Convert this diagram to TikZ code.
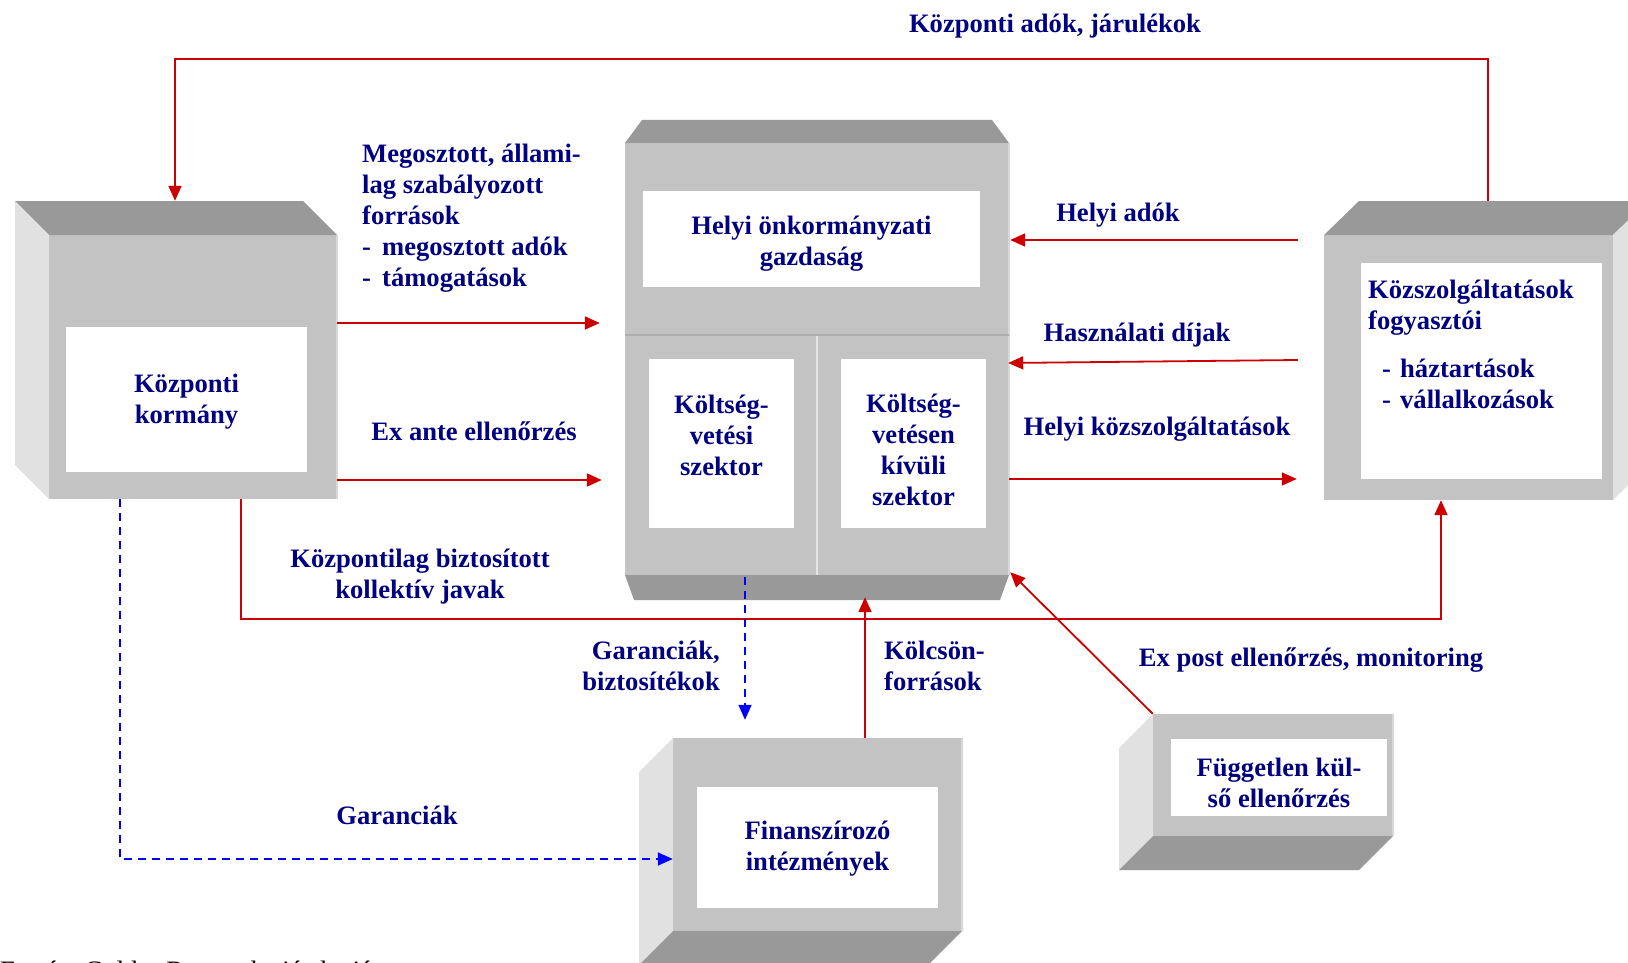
\documentclass[tikz,border=0pt]{standalone}
\usepackage{fontspec}
\setmainfont{Liberation Serif}
\usetikzlibrary{arrows.meta,calc}
\definecolor{navy}{HTML}{000080}
\definecolor{arrred}{HTML}{CC0000}
\definecolor{arrblue}{HTML}{0000FF}
\definecolor{topgray}{HTML}{999999}
\definecolor{frontgray}{HTML}{C3C3C3}
\definecolor{sidegray}{HTML}{E1E1E1}
\definecolor{edgegray}{HTML}{D8D8D8}
\definecolor{divgray}{HTML}{ADADAD}
\newcommand{\lblfont}{\fontsize{26.6}{31}\selectfont\bfseries}
\begin{document}
\begin{tikzpicture}[x=1pt,y=-1pt,
  lbl/.style={font=\lblfont, text=navy, inner sep=0pt},
  whitebox/.style={fill=white, draw=none, inner sep=0pt},
  front/.style={fill=frontgray, draw=none, inner sep=0pt},
  redline/.style={draw=arrred, line width=1.8pt},
  redarr/.style={redline, -{Triangle[length=15pt,width=13pt]}},
  bluearr/.style={draw=arrblue, line width=1.6pt, dash pattern=on 8pt off 6pt, -{Triangle[length=15pt,width=13pt]}}
]
\useasboundingbox (0,0) rectangle (1628,963);

% ---------- Kozponti kormany ----------
\node[front, minimum width=288pt, minimum height=264pt] (kk) at (193,367) {};
\fill[topgray] (15,201) -- (303,201) -- (337,235) -- (49,235) -- cycle;
\fill[sidegray] (15,201) -- (49,235) -- (49,499) -- (15,465) -- cycle;
\draw[edgegray, line width=2pt] (kk.north east) -- (kk.south east);
\node[whitebox, minimum width=241pt, minimum height=145pt] (kkw) at (186.5,399.5) {};
\node[lbl, align=center] (kkt) at (186.5,402) {Központi\\kormány};

% ---------- Helyi onkormanyzati gazdasag ----------
\node[front, minimum width=384pt, minimum height=432pt] (hk) at (817,359) {};
\fill[topgray] (642,120) -- (992,120) -- (1009,143) -- (625,143) -- cycle;
\fill[topgray] (625,575) -- (1009,575) -- (1000,600) -- (634,600) -- cycle;
\draw[edgegray, line width=2pt] (hk.north east) -- (hk.south east);
\draw[divgray, line width=1.5pt] (625,335) -- (1009,335);
\draw[edgegray!70!white, line width=2.5pt] (817,336) -- (817,575);
\node[whitebox, minimum width=337pt, minimum height=96pt] (hkw) at (811.5,239) {};
\node[lbl, align=center] (hkt) at (811.5,244) {Helyi önkormányzati\\gazdaság};
\node[whitebox, minimum width=145pt, minimum height=169pt] (ksw) at (721.5,443.5) {};
\node[lbl, align=center] (kst) at (721.5,435) {Költség-\\vetési\\szektor};
\node[whitebox, minimum width=145pt, minimum height=169pt] (knw) at (913.5,443.5) {};
\node[lbl, align=center] (knt) at (913.5,450) {Költség-\\vetésen\\kívüli\\szektor};

% ---------- Kozszolgaltatasok fogyasztoi ----------
\node[front, minimum width=289pt, minimum height=265pt] (kf) at (1468.5,367.5) {};
\fill[topgray] (1324,235) -- (1359,201) -- (1648,201) -- (1613,235) -- cycle;
\fill[sidegray] (1613,235) -- (1648,201) -- (1648,466) -- (1613,500) -- cycle;
\node[whitebox, minimum width=241pt, minimum height=216pt] (kfw) at (1481.5,371) {};
\node[lbl, anchor=west, align=left] (kft) at (1368,308) {Közszolgáltatások\\fogyasztói};
\node[lbl, anchor=west, align=left] (kfl) at (1382,384) {\makebox[18pt][l]{-}háztartások\\\makebox[18pt][l]{-}vállalkozások};

% ---------- Finanszirozo intezmenyek ----------
\node[front, minimum width=289pt, minimum height=193pt] (fi) at (817.5,834.5) {};
\fill[sidegray] (639,772) -- (673,738) -- (673,931) -- (639,965) -- cycle;
\fill[topgray] (673,931) -- (962,931) -- (928,965) -- (639,965) -- cycle;
\draw[edgegray, line width=2pt] (fi.north east) -- (962,931);
\node[whitebox, minimum width=241pt, minimum height=121pt] (fiw) at (817.5,847.5) {};
\node[lbl, align=center] (fit) at (817.5,848.5) {Finanszírozó\\intézmények};

% ---------- Fuggetlen kulso ellenorzes ----------
\node[front, minimum width=240pt, minimum height=122pt] (fk) at (1273,775) {};
\fill[sidegray] (1119,748) -- (1153,714) -- (1153,836) -- (1119,870) -- cycle;
\fill[topgray] (1153,836) -- (1393,836) -- (1359,870) -- (1119,870) -- cycle;
\draw[edgegray, line width=2pt] (fk.north east) -- (1393,836);
\node[whitebox, minimum width=216pt, minimum height=77pt] (fkw) at (1279,777.5) {};
\node[lbl, align=center] (fkt) at (1279,782.5) {Független kül-\\ső ellenőrzés};

% ---------- connectors ----------
\draw[redarr] ($(kf.north -| 1488,0)+(0,-34)$) -- (1488,59) -| ($(kk.north -| 175,0)+(0,-34)$);
\draw[redarr] (kk.east |- 0,323) -- ($(hk.west |- 0,323)+(-25,0)$);
\draw[redarr] (kk.east |- 0,480) -- ($(hk.west |- 0,480)+(-23,0)$);
\draw[redarr] ($(kf.west |- 0,240)+(-26,0)$) -- ($(hk.east |- 0,240)+(1,0)$);
\draw[redarr] ($(kf.west |- 0,360)+(-26,0)$) -- ($(hk.east |- 0,363)+(-1,0)$);
\draw[redarr] (hk.east |- 0,479) -- ($(kf.west |- 0,479)+(-27,0)$);
\draw[redarr] (kk.south -| 241,0) -- (241,619) -| (kf.south -| 1441,0);
\draw[bluearr] (kk.south -| 120,0) -- (120,859) -- (fi.west |- 0,859);
\draw[bluearr] ($(hk.south -| 745,0)+(0,2)$) -- ($(fi.north -| 745,0)+(0,-18)$);
\draw[redarr] (fi.north -| 865,0) -- ($(hk.south -| 865,0)+(0,22)$);
\draw[redarr] (fk.north west) -- ($(hk.south east)+(1,-3)$);

% ---------- labels ----------
\node[lbl] (l1) at (1055,26) {Központi adók, járulékok};
\node[lbl, anchor=west, align=left] (l2) at (362,218.5) {Megosztott, állami-\\lag szabályozott\\források\\\makebox[20pt][l]{-}megosztott adók\\\makebox[20pt][l]{-}támogatások};
\node[lbl] (l3) at (474,431) {Ex ante ellenőrzés};
\node[lbl] (l4) at (1118,215) {Helyi adók};
\node[lbl] (l5) at (1137,335) {Használati díjak};
\node[lbl] (l6) at (1157,429) {Helyi közszolgáltatások};
\node[lbl, align=center] (l7) at (420,577) {Központilag biztosított\\kollektív javak};
\node[lbl, align=right, anchor=east] (l8) at (720,666) {Garanciák,\\biztosítékok};
\node[lbl, align=left, anchor=west] (l9) at (884,666) {Kölcsön-\\források};
\node[lbl] (l10) at (1311,660) {Ex post ellenőrzés, monitoring};
\node[lbl] (l11) at (397,815) {Garanciák};
\node[anchor=base west, inner sep=0pt, font=\fontsize{26.6}{31}\selectfont] (src) at (0,979) {Forrás: Goldes Reuert deviá alapján};
\end{tikzpicture}
\end{document}
